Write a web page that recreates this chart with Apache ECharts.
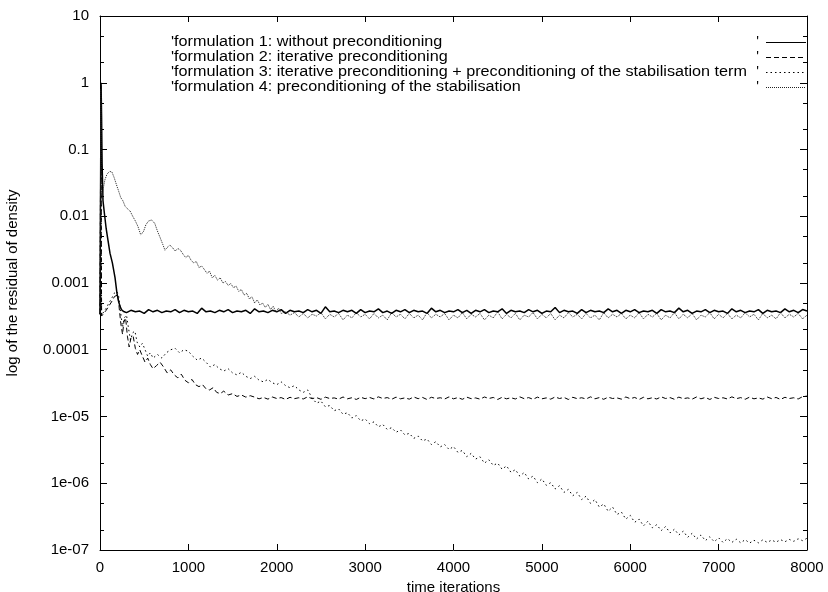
<!DOCTYPE html>
<html>
<head>
<meta charset="utf-8">
<script src="https://cdn.jsdelivr.net/npm/echarts@6/dist/echarts.min.js"></script>
<style>
  html, body { margin: 0; padding: 0; background: #fff; }
  #chart { width: 828px; height: 592px; }
</style>
</head>
<body>
<div id="chart"></div>
<script>
// Residual of density versus time iterations, four formulations.

const seriesNames = [
  'formulation 1: without preconditioning',
  'formulation 2: iterative preconditioning',
  'formulation 3: iterative preconditioning + preconditioning of the stabilisation term',
  'formulation 4: preconditioning of the stabilisation'
];

const yTickLabels = ['1e-07', '1e-06', '1e-05', '0.0001', '0.001', '0.01', '0.1', '1', '10'];
const yMinorTicks = [2e-7, 5e-7, 2e-6, 5e-6, 2e-5, 5e-5, 2e-4, 5e-4, 2e-3, 5e-3, 0.02, 0.05, 0.2, 0.5, 2, 5];

const tailStep = 50;

// formulation 1: start-up transient as [iteration, residual]
const f1Head = [[0,3.4e-4],[8,3.2e-4],[12,1.0],[18,0.3],[24,0.06],[34,0.017],[50,0.011],[70,0.0065],
  [90,0.0044],[113,0.0028],[140,0.002],[170,0.0012],[192,0.0007],[215,0.0005],[235,0.00042],
  [250,0.00039],[275,0.00037]];
// formulation 1: plateau from iteration 300, every 50 iterations (x 1e-4)
const f1TailStart = 300;
const f1Tail = [
  3.6,3.9,3.7,3.8,3.5,4.0,3.7,3.9,3.6,3.8,
  3.7,4.0,3.6,3.9,3.7,3.8,3.5,4.2,3.7,3.8,
  3.6,3.9,3.7,4.0,3.6,3.8,3.7,3.9,3.5,4.1,
  3.7,3.8,3.6,3.9,3.7,4.0,3.5,3.9,3.7,3.8,
  3.6,4.0,3.7,3.9,3.5,4.4,3.7,3.8,3.6,3.9,
  3.7,3.9,3.5,4.0,3.6,3.8,3.7,4.1,3.6,3.8,
  3.5,3.9,3.7,4.0,3.6,3.9,3.7,3.8,3.5,4.2,
  3.7,3.9,3.6,3.8,3.7,4.0,3.6,3.9,3.5,3.9,
  3.7,4.0,3.6,3.8,3.7,4.1,3.5,3.9,3.7,3.8,
  3.6,4.0,3.7,3.9,3.5,3.8,3.7,4.3,3.6,3.9,
  3.7,3.8,3.5,4.0,3.6,3.9,3.7,3.8,3.6,4.1,
  3.7,3.9,3.5,3.9,3.7,4.0,3.6,3.8,3.7,3.9,
  3.5,4.0,3.7,3.8,3.6,4.2,3.7,3.9,3.5,3.8,
  3.7,4.0,3.6,3.9,3.7,3.8,3.5,4.1,3.7,3.9,
  3.6,3.8,3.7,4.0,3.5,3.9,3.7,3.8,3.6,4.1,
  3.7,3.9,3.6,4.0,3.8
];

// formulation 2: transient and decay
const f2Head = [[0,3.4e-4],[5,3.3e-4],[10,0.9],[14,0.02],[18,3.2e-4],[40,3.4e-4],[70,3.9e-4],
  [100,4.5e-4],[130,5.2e-4],[165,6.3e-4],[200,6.6e-4],[215,4.5e-4],[235,2.5e-4],[255,1.7e-4],
  [270,2.6e-4],[290,3.0e-4],[310,1.6e-4],[330,1.1e-4],[350,1.5e-4],[375,1.6e-4],[400,1.05e-4],
  [425,8.5e-5],[450,1.0e-4],[480,8e-5],[510,6.5e-5],[540,7.5e-5],[570,6e-5],[600,5.2e-5],
  [640,5.8e-5],[680,6.5e-5],[720,5.5e-5],[760,4.5e-5],[800,5e-5],[840,4.2e-5],[880,3.8e-5],
  [920,4.3e-5],[960,3.5e-5],[1000,3.2e-5],[1040,3.6e-5],[1080,3.0e-5],[1120,2.8e-5],
  [1160,3.0e-5],[1200,2.6e-5],[1240,2.5e-5],[1280,2.7e-5],[1320,2.3e-5],[1360,2.2e-5],
  [1400,2.4e-5],[1450,2.1e-5],[1500,2.2e-5],[1550,2.0e-5],[1600,2.1e-5],[1650,1.95e-5],
  [1700,2.05e-5]];
// formulation 2: plateau from iteration 1750 (x 1e-5)
const f2TailStart = 1750;
const f2Tail = [
  1.95,1.84,1.93,1.82,1.96,1.86,1.92,1.8,1.94,1.85,
  1.91,1.83,1.97,1.85,1.92,1.81,1.95,1.86,1.9,1.82,
  1.96,1.84,1.91,1.8,1.94,1.85,1.93,1.83,1.97,1.86,
  1.92,1.81,1.95,1.84,1.9,1.82,1.96,1.85,1.93,1.8,
  1.94,1.86,1.91,1.83,1.97,1.84,1.92,1.81,1.95,1.85,
  1.9,1.82,1.96,1.86,1.93,1.8,1.94,1.84,1.91,1.83,
  1.97,1.85,1.92,1.81,1.95,1.84,1.9,1.82,1.96,1.86,
  1.93,1.8,1.94,1.85,1.91,1.83,1.97,1.84,1.92,1.81,
  1.95,1.86,1.9,1.82,1.96,1.85,1.93,1.8,1.94,1.84,
  1.91,1.83,1.97,1.86,1.92,1.81,1.95,1.85,1.9,1.82,
  1.96,1.84,1.93,1.8,1.94,1.86,1.91,1.83,1.97,1.85,
  1.92,1.81,1.95,1.84,1.9,1.82,1.96,1.85,1.93,1.8,
  1.94,1.86,1.91,1.83,1.98,2.02
];

// formulation 3: transient
const f3Head = [[0,3.4e-4],[5,3.3e-4],[10,0.6],[14,0.01],[18,3.3e-4],[40,3.5e-4],[70,4.2e-4],
  [100,5e-4],[130,5.8e-4],[160,7e-4],[190,7.5e-4],[210,6.5e-4],[235,3.5e-4],[255,2.2e-4],
  [275,3.0e-4],[300,3.3e-4],[320,2.2e-4],[345,1.4e-4],[370,1.8e-4],[395,1.9e-4],[420,1.3e-4],
  [450,1.1e-4],[480,1.25e-4],[510,1.0e-4],[540,8e-5],[570,9e-5],[600,7.5e-5],[650,8.5e-5],
  [700,7.5e-5],[750,9e-5],[800,1.0e-4],[850,1.05e-4],[900,9e-5],[950,1.0e-4],[1000,9.5e-5],
  [1050,8e-5],[1100,7e-5],[1150,7.5e-5],[1200,6.5e-5],[1250,5.5e-5],[1300,6e-5],[1350,5.2e-5],
  [1400,4.8e-5],[1450,5.2e-5],[1500,4.5e-5],[1550,4.2e-5],[1600,4.6e-5],[1650,4.0e-5],
  [1700,3.7e-5],[1750,4.0e-5],[1800,3.5e-5],[1850,3.3e-5],[1900,3.6e-5],[1950,3.2e-5],
  [2000,3.0e-5],[2050,3.3e-5],[2100,2.9e-5],[2150,2.7e-5],[2200,2.9e-5],[2250,2.5e-5],
  [2300,2.3e-5],[2350,2.5e-5]];
// formulation 3: steady decay from iteration 2400 (x 1e-7)
const f3TailStart = 2400;
const f3Tail = [
  190,158,170,140,146,122,130,108,114,95,
  103,86,92,78,83,70,76,64,68,58,
  63,53,56,47,51,43,46,38,42,35,
  38,32,35.5,29,31,25,28,23,25,20,
  22.5,18.5,20,16.2,18.2,14.6,16,12.8,14.5,11.6,
  12.8,10.2,11.6,9.3,10.2,8.2,9.2,7.3,8.1,6.5,
  7.3,5.7,6.4,5.0,5.7,4.4,4.9,3.8,4.4,3.4,
  3.7,2.9,3.3,2.6,2.9,2.3,2.7,2.15,2.4,1.95,
  2.25,1.8,2.05,1.68,1.92,1.55,1.78,1.46,1.68,1.38,
  1.58,1.33,1.52,1.3,1.48,1.3,1.45,1.28,1.43,1.27,
  1.40,1.28,1.42,1.3,1.41,1.31,1.43,1.33,1.44,1.35,
  1.47,1.38,1.5
];

// formulation 4: transient and slow decay
const f4Head = [[0,3.5e-4],[5,3.3e-4],[10,0.8],[13,0.02],[20,0.018],[35,0.025],[55,0.035],
  [80,0.043],[110,0.047],[135,0.046],[160,0.038],[185,0.03],[210,0.024],[235,0.019],[260,0.017],
  [285,0.014],[310,0.013],[340,0.012],[370,0.01],[400,0.0085],[430,0.007],[460,0.0053],
  [490,0.0058],[520,0.0075],[550,0.0085],[585,0.0088],[620,0.0078],[650,0.006],[680,0.0048],
  [710,0.0038],[735,0.0031],[760,0.0034],[790,0.0037],[820,0.0034],[850,0.003],[880,0.0033],
  [910,0.0031],[940,0.0027],[970,0.0024],[1000,0.0026],[1030,0.0022],[1060,0.002],[1090,0.0021],
  [1120,0.0017],[1150,0.0018],[1180,0.0016],[1210,0.0014],[1240,0.0015],[1270,0.0012],
  [1300,0.0013],[1330,0.0011],[1360,0.0012],[1390,0.001],[1420,0.00105],[1450,0.00092],
  [1480,0.00098],[1510,0.00085],[1540,0.0009],[1570,0.00075],[1600,0.0008],[1630,0.00066],
  [1660,0.0007],[1690,0.00058],[1720,0.00062],[1750,0.0005],[1780,0.00056],[1810,0.00047],
  [1840,0.0005],[1870,0.00043],[1900,0.00048],[1930,0.0004],[1960,0.00045],[1990,0.00037],
  [2020,0.00042],[2050,0.00035]];
// formulation 4: plateau from iteration 2100 (x 1e-4)
const f4TailStart = 2100;
const f4Tail = [
  3.7,3.3,3.6,3.1,3.5,3.0,3.4,3.2,3.6,2.9,
  3.4,3.1,3.5,2.8,3.3,3.0,3.6,3.1,3.4,2.9,
  3.5,3.0,3.3,2.8,3.6,3.1,3.4,2.9,3.5,3.0,
  3.3,2.8,3.6,3.0,3.4,3.1,3.5,2.8,3.3,3.0,
  3.6,2.9,3.4,3.1,3.5,2.8,3.3,3.0,3.7,2.9,
  3.4,3.0,3.5,2.8,3.3,3.1,3.6,2.9,3.4,3.0,
  3.5,2.8,3.3,3.0,3.6,3.1,3.4,2.9,3.5,3.0,
  3.3,2.8,3.6,3.0,3.4,3.1,3.5,2.9,3.3,3.0,
  3.6,2.9,3.4,3.1,3.5,2.8,3.3,3.0,3.6,2.9,
  3.4,3.0,3.5,2.8,3.3,3.1,3.6,2.9,3.4,3.0,
  3.5,2.9,3.3,3.0,3.6,3.1,3.4,2.8,3.5,3.0,
  3.3,2.9,3.6,3.0,3.4,3.1,3.5,2.9,3.3
];

function join(head, tail, start, unit) {
  return head.concat(tail.map((v, i) => [start + i * tailStep, v * unit]));
}

const seriesData = [
  join(f1Head, f1Tail, f1TailStart, 1e-4),
  join(f2Head, f2Tail, f2TailStart, 1e-5),
  join(f3Head, f3Tail, f3TailStart, 1e-7),
  join(f4Head, f4Tail, f4TailStart, 1e-4)
];

const dashTypes = ['solid', [5, 3], [1.5, 3], [1, 1]];
const lineWidths = [1.5, 1, 1, 1];
const lineColors = ['#000', '#000', '#000', '#222'];

const FONT = 'Liberation Sans, Arial, Helvetica, sans-serif';
const FONT_SIZE = 14;

// key text is drawn slightly widened, like the plotting terminal's font
const measureCtx = document.createElement('canvas').getContext('2d');
measureCtx.font = FONT_SIZE + 'px ' + FONT;
const keyTextWidth = 576;
const keyScale = keyTextWidth / measureCtx.measureText("'" + seriesNames[2]).width;

const keyLeft = 171, keyTop = 42, keyRow = 15;
const keyQuoteX = 759, keySampleX0 = 766, keySampleX1 = 806;

const keyGraphics = [];
seriesNames.forEach((name, i) => {
  const y = keyTop + i * keyRow;
  keyGraphics.push({
    type: 'text', x: keyLeft, y: y, scaleX: keyScale, originX: 0, silent: true,
    style: { text: "'" + name, fill: '#000', font: FONT_SIZE + 'px ' + FONT,
      textAlign: 'left', textVerticalAlign: 'middle' }
  });
  keyGraphics.push({
    type: 'text', x: keyQuoteX, y: y, silent: true,
    style: { text: "'", fill: '#000', font: FONT_SIZE + 'px ' + FONT,
      textAlign: 'right', textVerticalAlign: 'middle' }
  });
  keyGraphics.push({
    type: 'line', silent: true,
    shape: { x1: keySampleX0, y1: y + 0.5, x2: keySampleX1, y2: y + 0.5 },
    style: { stroke: lineColors[i], lineWidth: 1,
      lineDash: dashTypes[i] === 'solid' ? null : dashTypes[i] }
  });
});

const chart = echarts.init(document.getElementById('chart'), null, { renderer: 'canvas' });

// fixed plot rectangle; labels and names sit outside it without shrinking it
const plotRect = { left: 100, right: 21, top: 16, bottom: 42, containLabel: false, outerBoundsMode: 'none' };
const logAxisBase = {
  type: 'log', logBase: 10, min: 1e-7, max: 10,
  splitLine: { show: false }, minorTick: { show: false }
};
const tickStyle = { color: '#000', width: 1 };

chart.setOption({
  animation: false,
  backgroundColor: '#fff',
  textStyle: { fontFamily: FONT },
  // grid 0 holds the data and the framed axes; grid 1 overlays it for the minor log ticks
  grid: [Object.assign({}, plotRect), Object.assign({}, plotRect)],
  graphic: keyGraphics,
  xAxis: [
    {
      gridIndex: 0, type: 'value', min: 0, max: 8000, interval: 1000, position: 'bottom',
      name: 'time iterations', nameLocation: 'middle', nameGap: 22,
      nameTextStyle: { color: '#000', fontSize: 15, fontFamily: FONT },
      axisLine: { onZero: false, lineStyle: { color: '#000', width: 1 } },
      axisTick: { show: true, inside: true, length: 6, lineStyle: tickStyle },
      axisLabel: { color: '#000', fontSize: 15, margin: 10, fontFamily: FONT,
        formatter: v => String(v) },
      splitLine: { show: false }
    },
    {
      gridIndex: 0, type: 'value', min: 0, max: 8000, interval: 1000, position: 'top',
      axisLine: { onZero: false, lineStyle: { color: '#000', width: 1 } },
      axisTick: { show: true, inside: true, length: 6, lineStyle: tickStyle },
      axisLabel: { show: false },
      splitLine: { show: false }
    },
    {
      gridIndex: 1, type: 'value', min: 0, max: 8000, show: false
    }
  ],
  yAxis: [
    Object.assign({}, logAxisBase, {
      gridIndex: 0, position: 'left',
      name: 'log of the residual of density', nameLocation: 'middle', nameGap: 80, nameRotate: 90,
      nameTextStyle: { color: '#000', fontSize: 15, fontFamily: FONT },
      axisLine: { show: true, onZero: false, lineStyle: { color: '#000', width: 1 } },
      axisTick: { show: true, inside: true, length: 7, lineStyle: tickStyle },
      axisLabel: {
        color: '#000', fontSize: 15, margin: 11, fontFamily: FONT,
        formatter: v => yTickLabels[Math.round(Math.log10(v)) + 7]
      }
    }),
    Object.assign({}, logAxisBase, {
      gridIndex: 0, position: 'right',
      axisLine: { show: true, onZero: false, lineStyle: { color: '#000', width: 1 } },
      axisTick: { show: true, inside: true, length: 7, lineStyle: tickStyle },
      axisLabel: { show: false }
    }),
    Object.assign({}, logAxisBase, {
      gridIndex: 1, position: 'left',
      axisLine: { show: false },
      axisTick: { show: true, inside: true, length: 4, customValues: yMinorTicks, lineStyle: tickStyle },
      axisLabel: { show: false }
    }),
    Object.assign({}, logAxisBase, {
      gridIndex: 1, position: 'right',
      axisLine: { show: false },
      axisTick: { show: true, inside: true, length: 4, customValues: yMinorTicks, lineStyle: tickStyle },
      axisLabel: { show: false }
    })
  ],
  series: seriesNames.map((name, i) => ({
    name: name,
    type: 'line',
    xAxisIndex: 0,
    yAxisIndex: 0,
    data: seriesData[i],
    symbol: 'none',
    showSymbol: false,
    smooth: false,
    lineStyle: { color: lineColors[i], width: lineWidths[i], type: dashTypes[i] },
    itemStyle: { color: lineColors[i] },
    emphasis: { disabled: true }
  }))
});
</script>
</body>
</html>
